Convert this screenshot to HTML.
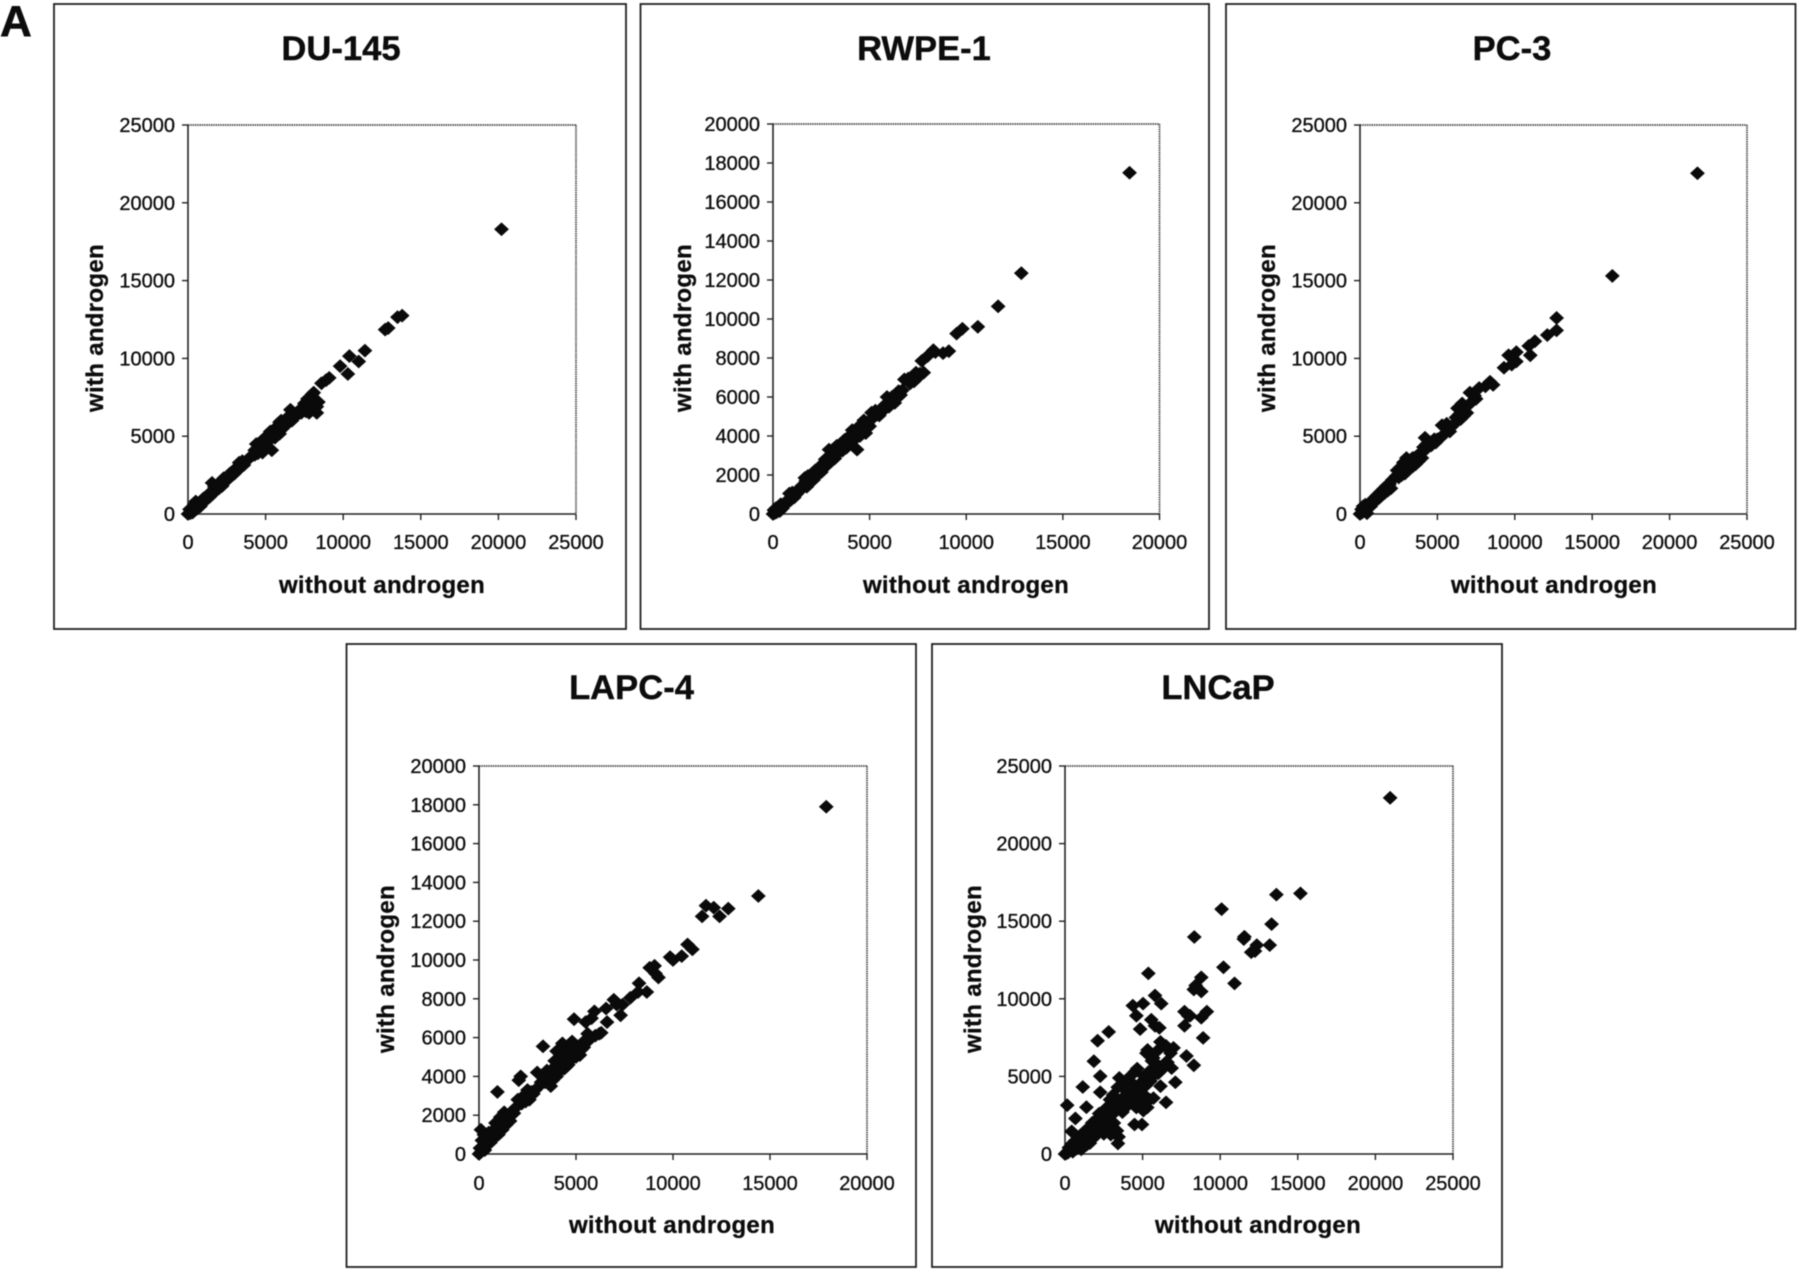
<!DOCTYPE html>
<html lang="en">
<head>
<meta charset="utf-8">
<title>With vs. without androgen scatter plots</title>
<style>
  html, body { margin: 0; padding: 0; background: #fff; }
  svg { display: block; filter: blur(0.4px); }
  text { font-family: "Liberation Sans", Arial, sans-serif; fill: #0c0c0c; }
  .panel-box { fill: none; stroke: #222; stroke-width: 1.8; }
  .title { font-size: 34.6px; font-weight: bold; text-anchor: middle; stroke: #0c0c0c; stroke-width: 0.4; }
  .axis-title { font-size: 24px; font-weight: bold; text-anchor: middle; letter-spacing: 0.3px; stroke: #0c0c0c; stroke-width: 0.3; }
  .axis-solid { stroke: #222; stroke-width: 1.6; }
  .axis-dotted { stroke: #444; stroke-width: 1.7; stroke-dasharray: 1.5 0.8; }
  .tick { stroke: #222; stroke-width: 1.4; }
  .tick-label { font-size: 20px; stroke: #0c0c0c; stroke-width: 0.3; }
</style>
</head>
<body>
<svg id="figure" xmlns="http://www.w3.org/2000/svg" width="1800" height="1271" viewBox="0 0 1800 1271">
  <rect width="1800" height="1271" fill="#fff"/>
  <text x="0" y="36" font-size="44" font-weight="bold" stroke="#0c0c0c" stroke-width="0.6">A</text>

  <g>
    <rect class="panel-box" x="54" y="4" width="572" height="625"/>
    <text class="title" x="341" y="60">DU-145</text>
    <text class="axis-title" x="382" y="593">without androgen</text>
    <text class="axis-title" transform="translate(103,328) rotate(-90)">with androgen</text>
    <g id="plot-du"></g>
  </g>

  <g>
    <rect class="panel-box" x="640.5" y="4" width="568.5" height="625"/>
    <text class="title" x="924" y="60">RWPE-1</text>
    <text class="axis-title" x="966" y="593">without androgen</text>
    <text class="axis-title" transform="translate(691,328) rotate(-90)">with androgen</text>
    <g id="plot-rwpe"></g>
  </g>

  <g>
    <rect class="panel-box" x="1226" y="4" width="569.5" height="625"/>
    <text class="title" x="1512" y="60">PC-3</text>
    <text class="axis-title" x="1554" y="593">without androgen</text>
    <text class="axis-title" transform="translate(1275,328) rotate(-90)">with androgen</text>
    <g id="plot-pc3"></g>
  </g>

  <g>
    <rect class="panel-box" x="346.5" y="644" width="569.5" height="623"/>
    <text class="title" x="631.5" y="699">LAPC-4</text>
    <text class="axis-title" x="672" y="1233">without androgen</text>
    <text class="axis-title" transform="translate(394,969) rotate(-90)">with androgen</text>
    <g id="plot-lapc"></g>
  </g>

  <g>
    <rect class="panel-box" x="932" y="644" width="570" height="623"/>
    <text class="title" x="1218" y="699">LNCaP</text>
    <text class="axis-title" x="1258" y="1233">without androgen</text>
    <text class="axis-title" transform="translate(981,969) rotate(-90)">with androgen</text>
    <g id="plot-lncap"></g>
  </g>
</svg>

<script>
// ---------- tick labels ----------
const ticks25k = [0, 5000, 10000, 15000, 20000, 25000];
const ticks20kX = [0, 5000, 10000, 15000, 20000];
const ticks20kY = [0, 2000, 4000, 6000, 8000, 10000, 12000, 14000, 16000, 18000, 20000];

// ---------- DU-145 ----------
const duX = [
  0,100,150,200,300,300,400,450,500,600,
  700,800,900,1000,1100,1200,1300,1400,1500,1550,
  1600,1700,1800,1900,2000,2100,2200,2300,2400,2500,
  2600,2700,2800,2900,3000,3100,3200,3300,3400,3500,
  3600,3800,4000,4200,4300,4400,4500,4600,4700,4800,
  4900,5000,5100,5200,5300,5400,5500,5600,5700,5800,
  5900,6000,6100,6200,6300,6500,6600,6700,6900,7000,
  7200,7400,7500,7600,7700,7800,7900,8000,8100,8200,
  8300,8400,8100,8600,8900,9100,9800,10300,10400,11000,
  11400,12700,12900,13500,13800,20200,
  4300,4500,4700,4900,5100,5300,5500,5700,5900,6100,
  6400,6800,7100,7300,7500,7700,7900,8100,8300,2000,
  2400,2800,1000,1300];
const duY = [
  0,300,50,150,400,100,600,250,800,350,
  700,500,900,750,1050,950,1250,1100,1350,2000,
  1300,1750,1500,1900,1650,1950,1800,2300,2100,2350,
  2250,2600,2450,2750,2600,2950,2800,3300,3050,3400,
  3150,3450,3650,3800,4100,4500,3900,4300,4600,3950,
  4400,4700,4250,4800,5300,4100,5400,4900,5200,5500,
  5150,6000,5500,5800,5700,6100,6700,6000,6300,6350,
  6500,6700,7100,6600,7400,6500,7000,7700,6700,7200,
  6900,7200,7800,8400,8600,8750,9500,9000,10150,9800,
  10500,11850,11950,12650,12750,18300,
  3800,4200,4100,4850,4600,4900,5000,5500,5900,5700,
  6200,6500,6600,6500,6800,6900,7300,7300,6500,1850,
  2250,2650,1000,1150];

// ---------- RWPE-1 ----------
const rwpeX = [
  0,50,100,150,200,250,300,350,400,500,
  600,700,800,850,900,1000,1100,1200,1400,1500,
  1600,1650,1750,1800,1900,2000,2100,2200,2300,2400,
  2500,2600,2700,2800,2900,3000,3100,3200,3300,3400,
  3600,3700,3800,3900,4000,4100,4200,4350,4400,4500,
  4600,4700,4800,4900,5000,5100,5200,5300,5500,5600,
  5800,5900,6000,6150,6300,6500,6700,6800,7000,7300,
  7400,7600,7700,7800,8000,8300,8400,8800,9100,9500,
  9800,10600,11650,12850,18450,
  1000,1300,1700,2200,2600,3000,3300,3500,3800,4000,
  4200,4500,4700,5000,5400,5700,6100,6400,6600,7100,
  7500];
const rwpeY = [
  0,200,50,300,100,350,250,150,500,300,
  550,550,750,1050,700,1100,850,1000,1200,1450,
  1500,1850,1400,1950,1650,2050,1750,2250,2000,2350,
  2150,2600,2800,2500,3300,2700,3250,2850,3500,3150,
  3250,3800,3400,3950,3650,4300,3800,3300,4450,4000,
  4200,4800,4150,4600,4500,5200,4950,5300,5050,5400,
  5600,6000,5500,6000,5700,6300,6350,6900,6950,6800,
  7250,7200,7850,7250,8100,8400,8300,8250,8350,9250,
  9500,9600,10650,12350,17500,
  1000,1250,1700,2050,2450,3000,3100,3300,3700,3900,
  4200,4300,4400,4800,5100,5300,5800,6000,6100,6700,
  7000];

// ---------- PC-3 ----------
const pc3X = [
  0,100,150,200,300,350,450,500,600,700,
  800,900,1000,1100,1200,1300,1400,1500,1600,1700,
  1800,1900,2000,2100,2300,2400,2500,2600,2700,2800,
  2900,3000,3050,3100,3200,3300,3400,3500,3600,3700,
  3800,3900,4000,4100,4200,4300,4500,4800,5000,5200,
  5300,5400,5500,5600,5800,5900,6100,6200,6300,6500,
  6600,6700,6800,6900,7000,7100,7500,7700,8100,8400,
  8600,9300,9600,9800,10100,10100,10900,11000,11300,12100,
  12700,12700,16300,21800,
  2400,2600,2800,3000,3200,3400,3600,4300,4600,4900,
  5700,6000,6400,7200,7400];
const pc3Y = [
  0,300,100,500,200,600,50,400,650,500,
  800,1000,850,1200,1000,1400,1200,1600,1350,1800,
  1500,1900,1650,2200,2400,2800,2350,3000,2500,3300,
  2600,3600,2800,3200,2950,3500,3050,3600,3200,3750,
  3400,3900,3600,4300,4900,4200,4600,4800,4800,4900,
  5700,5100,5600,5800,5300,5600,5800,6200,6800,6100,
  7100,6300,6900,6500,7000,7800,7400,8100,8200,8500,
  8300,9400,10200,9600,10400,9800,10800,10200,11100,11500,
  12600,11800,15300,21900,
  2500,2700,2900,3100,3300,3600,3500,4500,4400,4600,
  5400,5700,6400,7200,7600];

// ---------- LAPC-4 ----------
const lapcX = [
  0,50,100,100,150,200,250,300,350,400,
  500,600,700,800,850,950,1000,1100,1200,1300,
  1400,1500,1600,1700,1900,2000,2050,2150,2200,2300,
  2400,2500,2600,2700,2900,3000,3100,3300,3400,3500,
  3600,3700,3800,3900,4000,4050,4200,4300,4400,4500,
  4600,4700,4800,4900,4900,5000,5100,5200,5300,5400,
  5500,5600,5700,5800,5950,6000,6200,6300,6550,6600,
  6950,7100,7300,7400,7800,8200,8250,8650,8800,9050,
  9100,9250,9850,10000,10450,10750,11000,11500,11700,12100,
  12400,12850,14400,17900,
  3800,4000,4100,4200,4300,4400,4500,4600,4700,4800,
  5000,5200,5400,5600,3400,3600,3200,2800,2600,2400,
  1800,1600,1400,1200,1000,800,600,400];
const lapcY = [
  0,300,1250,100,700,400,1000,200,800,500,
  1100,600,1200,850,1600,3200,1000,1900,1250,2150,
  1500,2000,1700,2200,2400,2800,3800,4000,2600,3000,
  2700,3300,2800,3200,3300,4200,3500,5550,3700,4300,
  3900,3500,4400,4800,5300,4200,5000,5700,4400,5000,
  4600,5200,5800,5000,6950,5000,5200,5600,5400,5500,
  6800,5800,6000,7000,7350,6100,6200,6250,7500,6800,
  7950,7700,7150,7700,8050,8350,8800,8350,9600,9700,
  9300,9100,10150,10000,10200,10800,10550,12250,12800,12700,
  12250,12650,13300,17900,
  3800,4000,4800,4300,5200,4800,4500,5300,4900,5100,
  5400,5100,5800,6200,3900,4200,3700,3100,3000,2900,
  2100,2000,1800,1600,1400,1200,900,700];

// ---------- LNCaP ----------
const lncapX = [
  0,100,150,200,250,300,350,400,450,500,
  550,600,650,700,750,800,850,900,1000,1050,
  1100,1200,1300,1400,1500,1550,1600,1700,1750,1800,
  1900,2000,2100,2150,2200,2300,2400,2500,2600,2700,
  2800,2900,2950,3000,3100,3150,3200,3300,3350,3400,
  3410,3450,3500,3600,3700,3800,3900,4000,4100,4200,
  4300,4400,4480,4500,4600,4650,4700,4800,4840,4900,
  4960,5000,5050,5100,5150,5200,5250,5300,5320,5370,
  5400,5450,5500,5560,5600,5650,5680,5700,5750,5800,
  5800,5900,6000,6080,6100,6150,6150,6200,6300,6400,
  6510,6510,6600,6870,6990,7110,7700,7700,7825,7940,
  8060,8300,8300,8330,8420,8780,8780,8780,8900,9140,
  10090,10210,10925,11520,11560,12000,12240,12360,13190,13310,
  13620,15170,20950,140,430,670,1145,1380,1860,2100,
  2270,2270,2815,4370,4600,5030,
  2200,2500,2800,3000,3200,3500,3800,4200,5000,5500,
  6000,6300,6500,6800,1500,1800];
const lncapY = [
  0,50,150,100,400,200,500,300,650,150,
  700,250,850,500,350,950,600,1100,700,300,
  1250,900,1500,600,1100,1700,700,1400,2000,1000,
  1700,2200,1300,1900,2600,1600,2000,1300,2400,3000,
  1800,3500,1250,2500,3800,2000,2900,3200,1500,4300,
  680,1100,4900,3500,2700,4500,3000,4000,3200,5000,
  3700,4500,1900,5300,3000,5500,4100,3400,8050,4600,
  1900,3900,2800,5000,3300,4400,6500,3000,6705,11640,
  5300,3500,4700,8650,6000,5000,6185,3600,5500,8260,
  10210,5800,6700,8130,5300,7225,4370,9690,5700,7000,
  3325,6965,5900,5535,6835,4625,9170,8260,6315,8910,
  8910,5715,10600,13980,10860,11380,10470,8780,7480,9170,
  15775,12030,10990,13850,14000,13000,13070,13460,13460,14810,
  16710,16790,22950,3145,1455,2290,4315,3015,5980,7300,
  5015,3980,7870,9560,8910,9690,
  1700,2100,2500,2900,3400,3100,3600,3800,3300,4900,
  5200,5500,5900,6500,1300,1500];

const NS = 'http://www.w3.org/2000/svg';

function make(tag, attrs, parent) {
  const el = document.createElementNS(NS, tag);
  for (const k in attrs) el.setAttribute(k, attrs[k]);
  parent.appendChild(el);
  return el;
}

function drawPlot(id, box, xMax, yMax, xTicks, yTicks, xs, ys) {
  const parent = document.getElementById(id);
  const sx = v => box.left + (v / xMax) * (box.right - box.left);
  const sy = v => box.bottom - (v / yMax) * (box.bottom - box.top);

  const topEdge = make('line', {x1: box.left, y1: box.top, x2: box.right, y2: box.top, class: 'axis-dotted'}, parent);
  
  
  const rightEdge = make('line', {x1: box.right, y1: box.top, x2: box.right, y2: box.bottom, class: 'axis-dotted'}, parent);
  
  
  const yAxis = make('line', {x1: box.left, y1: box.top, x2: box.left, y2: box.bottom, class: 'axis-solid'}, parent);
  
  
  const xAxis = make('line', {x1: box.left, y1: box.bottom, x2: box.right, y2: box.bottom, class: 'axis-solid'}, parent);
  
  

  xTicks.forEach(v => {
    const t = make('line', {x1: sx(v), y1: box.bottom, x2: sx(v), y2: box.bottom + 6, class: 'tick'}, parent);
    
    
    const l = make('text', {x: sx(v), y: box.labelY, 'text-anchor': 'middle', class: 'tick-label'}, parent);
    l.textContent = String(v);
    
    
  });

  yTicks.forEach(v => {
    const t = make('line', {x1: box.left - 6, y1: sy(v), x2: box.left, y2: sy(v), class: 'tick'}, parent);
    
    
    const l = make('text', {x: box.left - 13, y: sy(v) + 7, 'text-anchor': 'end', class: 'tick-label'}, parent);
    l.textContent = String(v);
    
    
  });

  xs.forEach((v, i) => {
    const cx = sx(v), cy = sy(ys[i]);
    const d = 'M' + (cx - 7.4) + ' ' + cy + 'L' + cx + ' ' + (cy - 6.9) + 'L' + (cx + 7.4) + ' ' + cy + 'L' + cx + ' ' + (cy + 6.9) + 'Z';
    const p = make('path', {d: d, fill: '#0a0a0a'}, parent);
    
    
  });
}

drawPlot('plot-du',    {left: 188,  right: 576,  top: 125, bottom: 514, labelY: 549},  25000, 25000, ticks25k,  ticks25k,  duX,    duY);
drawPlot('plot-rwpe',  {left: 773,  right: 1159.5, top: 124, bottom: 514, labelY: 549}, 20000, 20000, ticks20kX, ticks20kY, rwpeX,  rwpeY);
drawPlot('plot-pc3',   {left: 1360, right: 1747, top: 125, bottom: 514, labelY: 549},  25000, 25000, ticks25k,  ticks25k,  pc3X,   pc3Y);
drawPlot('plot-lapc',  {left: 479,  right: 867,  top: 766, bottom: 1154, labelY: 1190}, 20000, 20000, ticks20kX, ticks20kY, lapcX,  lapcY);
drawPlot('plot-lncap', {left: 1065, right: 1453, top: 766, bottom: 1154, labelY: 1190}, 25000, 25000, ticks25k,  ticks25k,  lncapX, lncapY);
</script>
</body>
</html>
